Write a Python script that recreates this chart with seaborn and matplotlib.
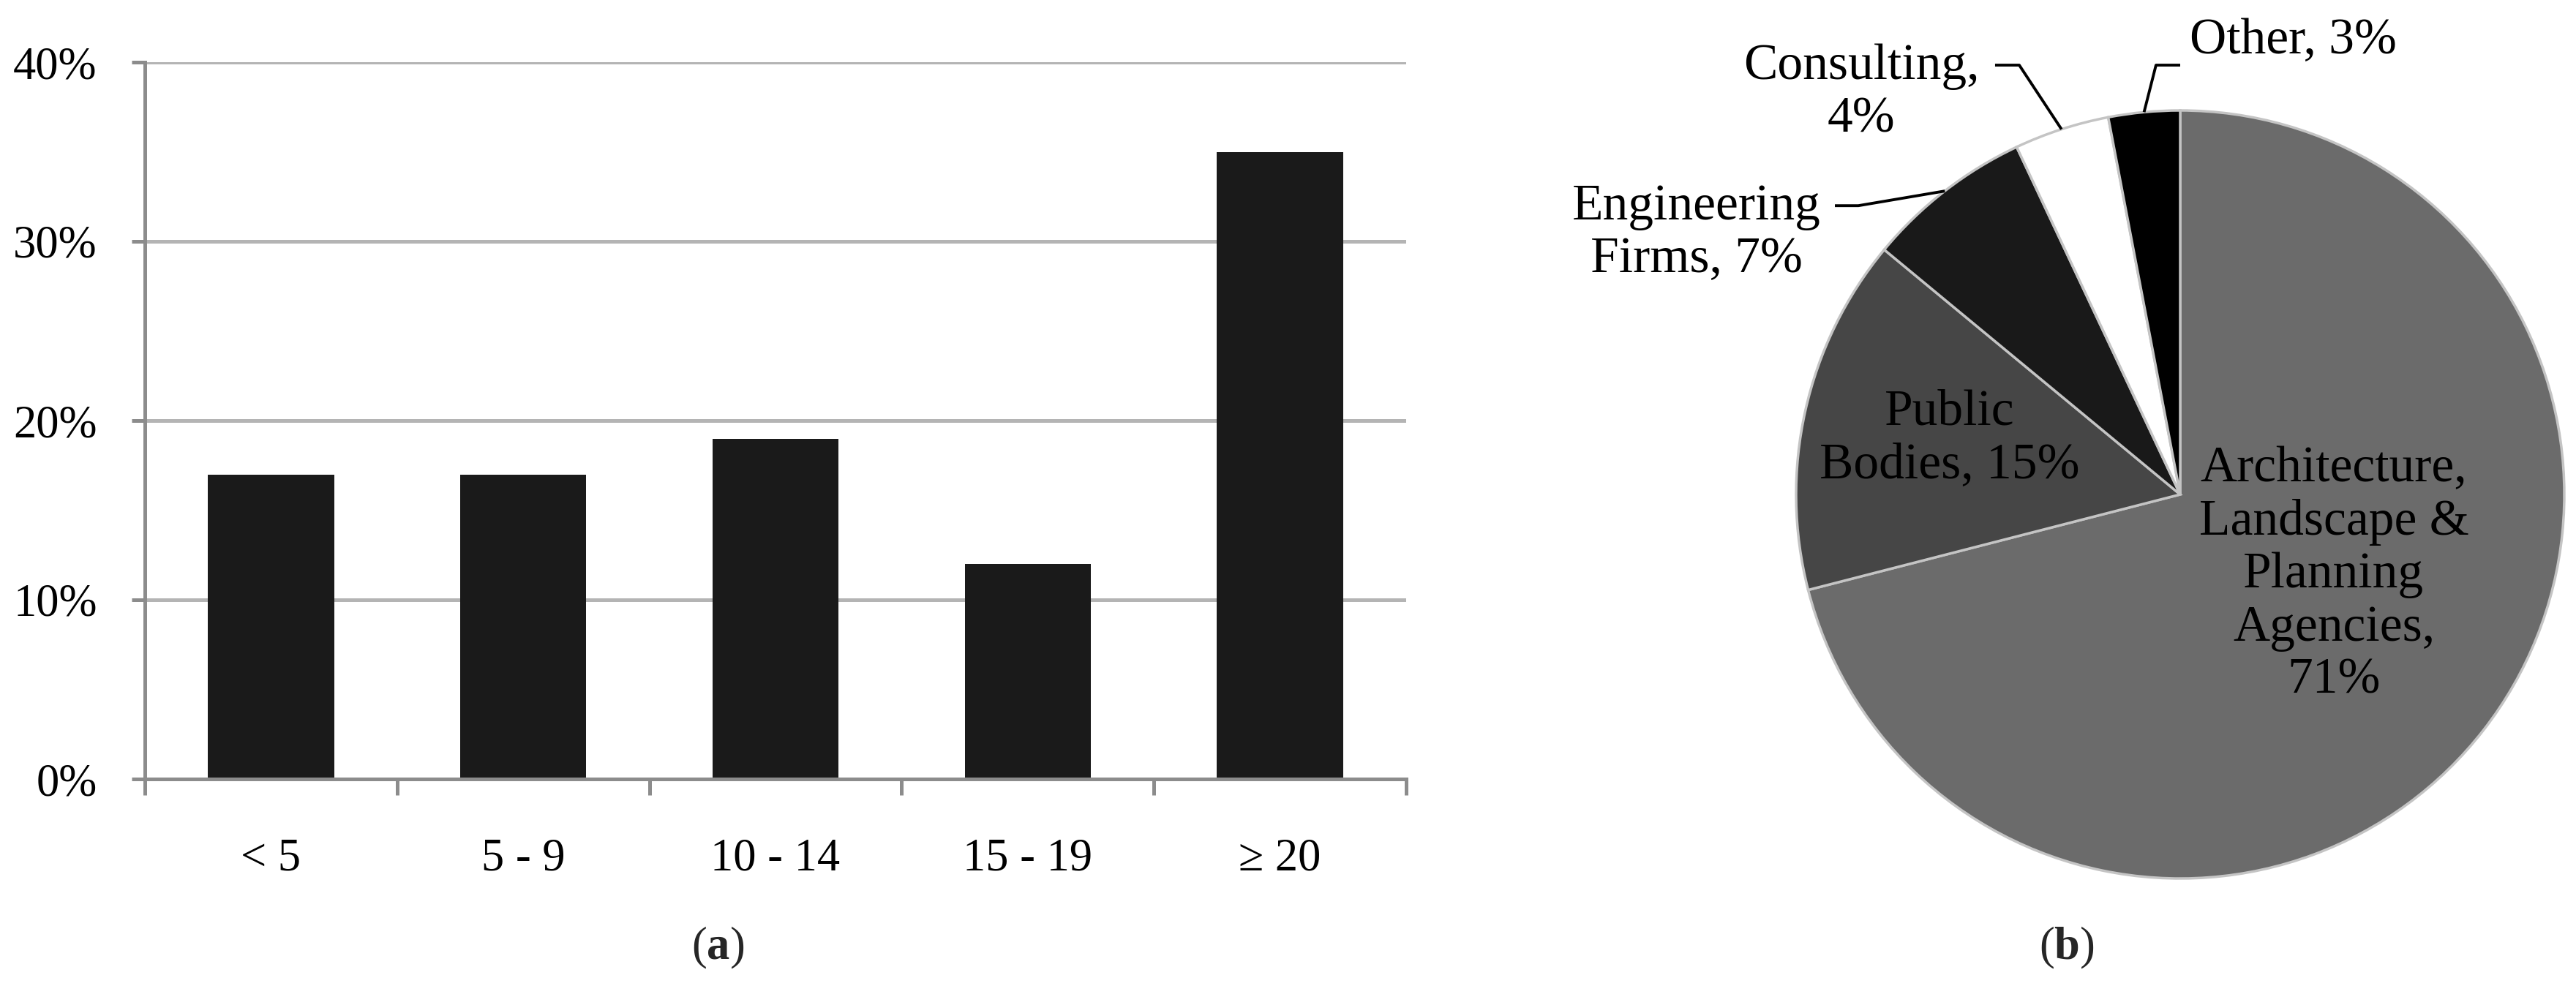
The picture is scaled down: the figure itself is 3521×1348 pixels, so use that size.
import matplotlib
matplotlib.use("Agg")
import numpy as np
import pandas as pd
import matplotlib.pyplot as plt
from matplotlib.ticker import FuncFormatter
import seaborn as sns

# (a) share of respondents by years of experience
years = ["< 5", "5 - 9", "10 - 14", "15 - 19", "≥ 20"]
share = [17, 17, 19, 12, 35]

# (b) sector of employment
sectors = ["Architecture,\nLandscape &\nPlanning\nAgencies,", "Public\nBodies,",
           "Engineering\nFirms,", "Consulting,", "Other,"]
sector_pct = [71, 15, 7, 4, 3]
sector_sep = ["\n", " ", " ", "\n", " "]
sector_colors = ["#6b6b6b", "#464646", "#191919", "#ffffff", "#000000"]

sns.set_theme(style="white")
plt.rcParams["font.family"] = ["Liberation Serif", "DejaVu Serif"]
plt.rcParams["mathtext.fontset"] = "custom"
plt.rcParams["mathtext.rm"] = "Liberation Serif"
plt.rcParams["mathtext.bf"] = "Liberation Serif:bold"

W, H = 3521, 1348
fig = plt.figure(figsize=(W / 100, H / 100), dpi=100)
fig.patch.set_facecolor("white")

grid_col = "#b4b4b4"
axis_col = "#8c8c8c"
fs = 45

# ---- bar chart ----
ax = fig.add_axes([198 / W, (H - 1065) / H, (1922 - 198) / W, (1065 - 85) / H])
df = pd.DataFrame({"years": years, "share": share})
sns.barplot(data=df, x="years", y="share", color="#1a1a1a", saturation=1,
            width=0.5, linewidth=0, ax=ax)
ax.set_xlim(-0.5, len(years) - 0.5)
ax.set_ylim(0, 40)
ax.set_yticks([0, 10, 20, 30, 40])
ax.yaxis.set_major_formatter(FuncFormatter(lambda v, _: f"{v:.0f}%"))
ax.grid(axis="y", color=grid_col, linewidth=3.6)
ax.grid(axis="x", visible=False)
ax.set_axisbelow(True)
for s in ["top", "right"]:
    ax.spines[s].set_visible(False)
for s in ["left", "bottom"]:
    ax.spines[s].set_color(axis_col)
    ax.spines[s].set_linewidth(3.6)
ax.tick_params(axis="y", length=13, width=3.6, color=axis_col, pad=34,
               labelsize=fs, labelcolor="black", left=True)
ax.tick_params(axis="x", which="major", length=0, pad=58, labelsize=fs,
               labelcolor="black")
ax.set_xticks(np.arange(-0.5, len(years)), minor=True)
ax.tick_params(axis="x", which="minor", length=16, width=3.6, color=axis_col,
               bottom=True)
ax.set_xlabel("")
ax.set_ylabel("")

# ---- pie chart ----
cx, cy, R = 2980, 676, 525
x0 = 2150
pax = fig.add_axes([x0 / W, 0, (W - x0) / W, 1])
wedges, _ = pax.pie(sector_pct, colors=sector_colors, startangle=90,
                    counterclock=False,
                    wedgeprops=dict(edgecolor="#c4c4c4", linewidth=2.5))
pax.set_aspect("auto")
pax.set_xlim((x0 - cx) / R, (W - cx) / R)
pax.set_ylim(-(H - cy) / R, cy / R)
pax.axis("off")

labels = [f"{n}{sep}{p}%" for n, sep, p in zip(sectors, sector_sep, sector_pct)]

# label layout: text position, alignment, leader (text end, elbow) or None
layout = [
    ((0.40, -0.21), "center", None),
    ((-0.60, 0.145), "center", None),
    ((-1.26, 0.68), "center", ((-0.899, 0.752), (-0.838, 0.752))),
    ((-0.83, 1.045), "center", ((-0.482, 1.118), (-0.419, 1.118))),
    ((0.025, 1.18), "left", ((0.0, 1.118), (-0.063, 1.118))),
]

pie_fs = 50
for w, lab, (pos, ha, lead) in zip(wedges, labels, layout):
    pax.text(pos[0], pos[1], lab, ha=ha, va="center", fontsize=pie_fs,
             linespacing=1.18, color="black", multialignment="center")
    if lead is not None:
        mid = np.deg2rad((w.theta1 + w.theta2) / 2)
        xs = [lead[0][0], lead[1][0], np.cos(mid)]
        ys = [lead[0][1], lead[1][1], np.sin(mid)]
        pax.plot(xs, ys, color="black", linewidth=2.8, solid_capstyle="butt")

# captions
fig.text(981 / W, 1 - 1296 / H, r"($\mathbf{a}$)", ha="center", va="center",
         fontsize=fs)
fig.text(2825 / W, 1 - 1296 / H, r"($\mathbf{b}$)", ha="center", va="center",
         fontsize=fs)

fig.savefig("out.png", dpi=100, facecolor="white")
